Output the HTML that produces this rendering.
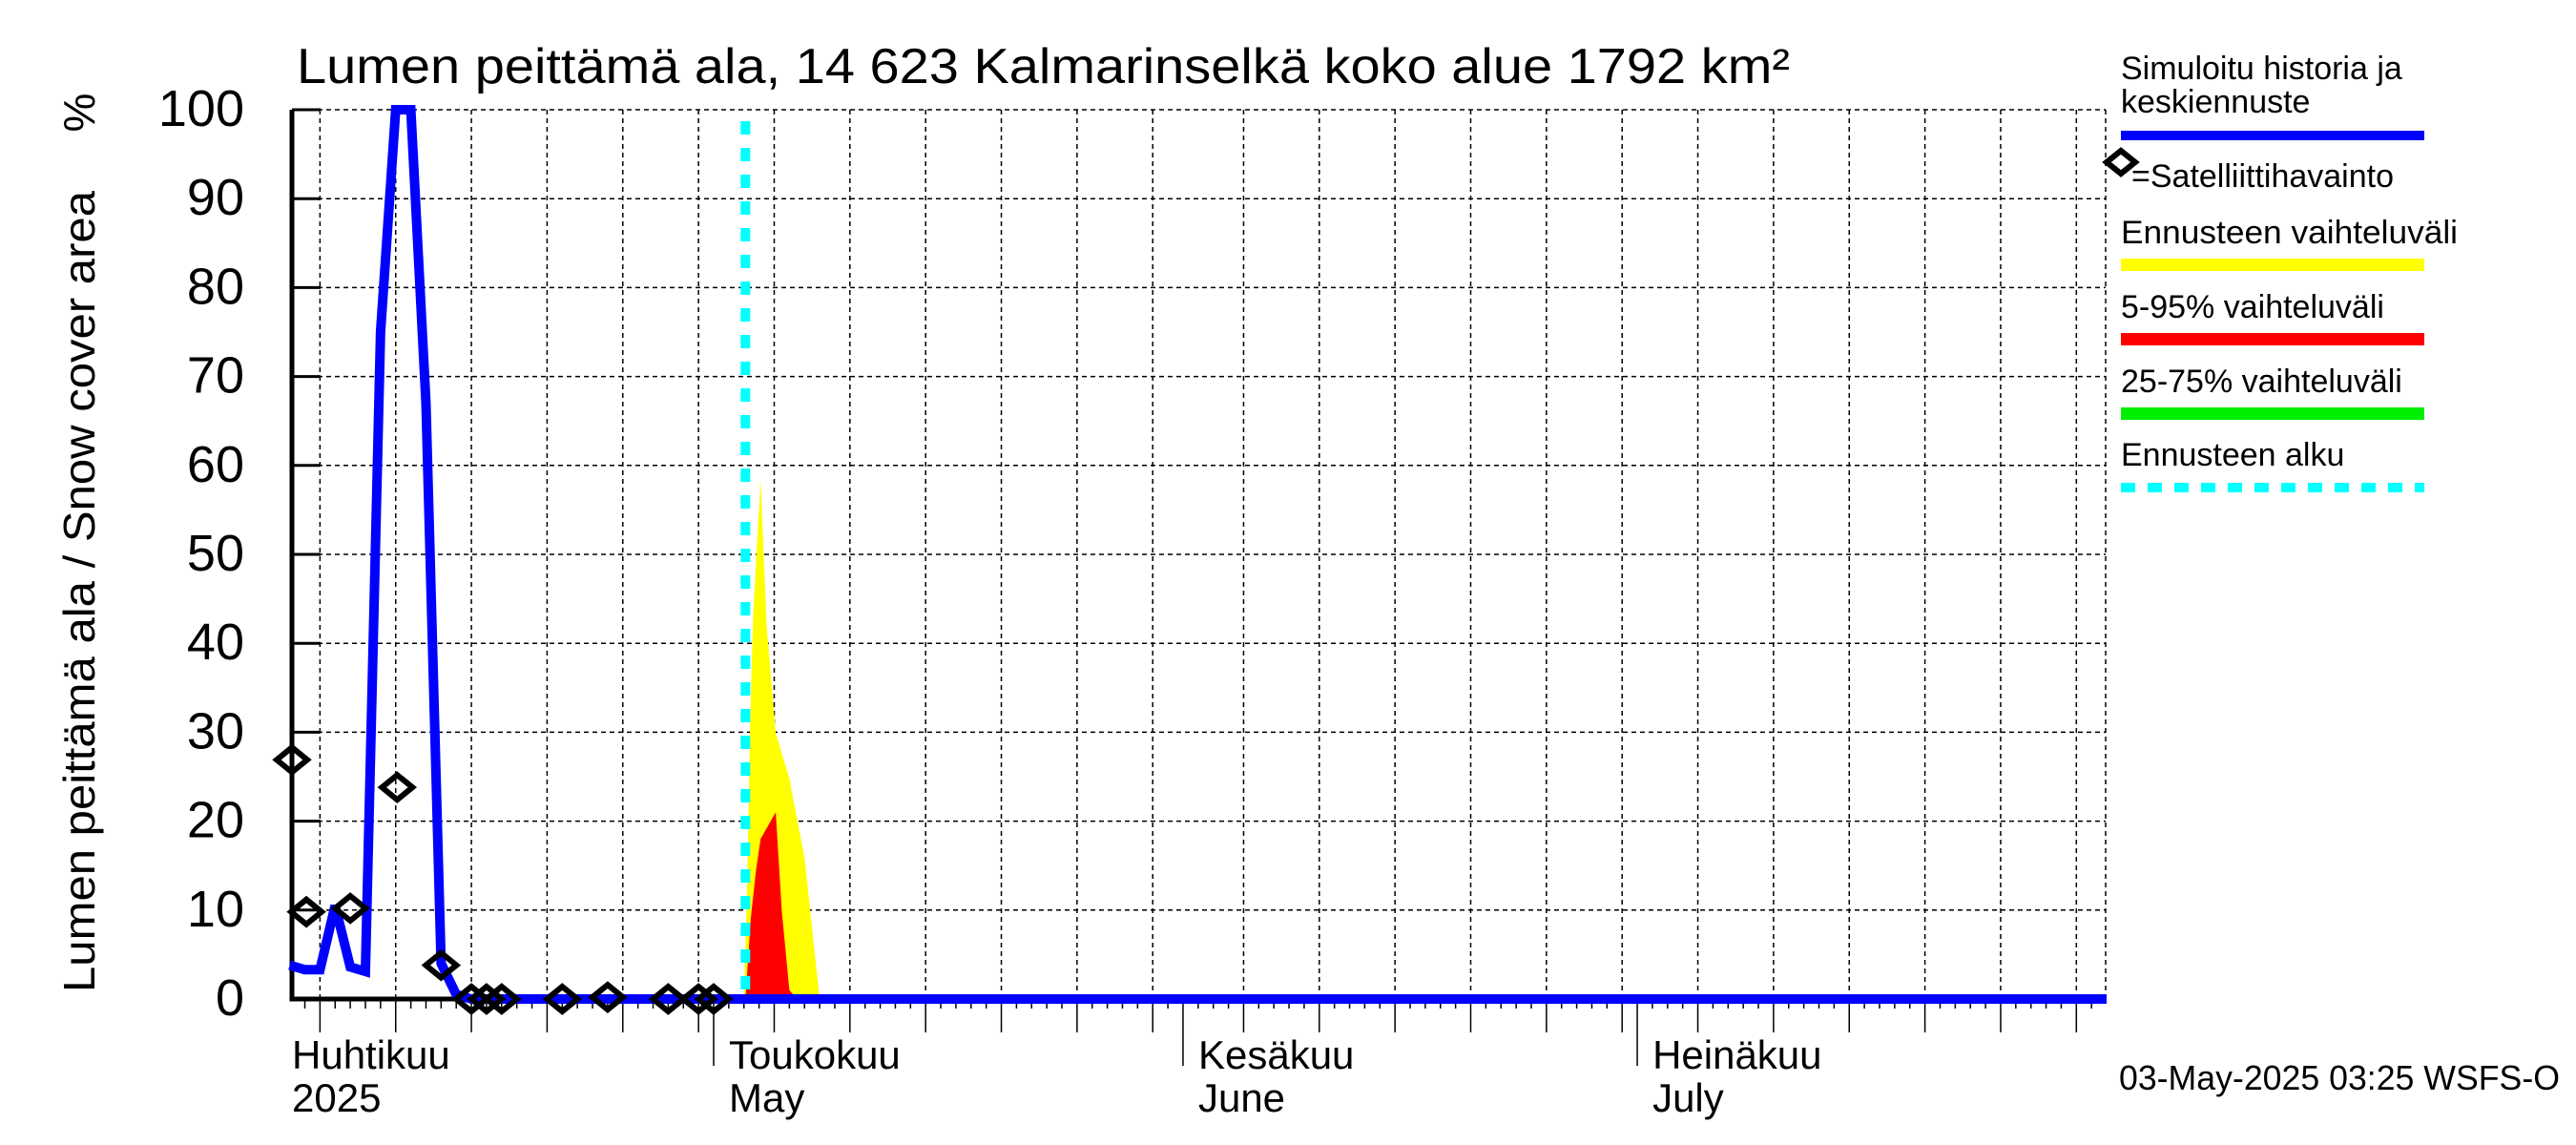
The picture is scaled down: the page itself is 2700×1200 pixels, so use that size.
<!DOCTYPE html>
<html><head><meta charset="utf-8"><title>Lumen peittämä ala</title>
<style>
html,body{margin:0;padding:0;background:#fff;}
svg{display:block;font-family:"Liberation Sans",sans-serif;}
</style></head>
<body>
<svg id="chart" width="2700" height="1200" viewBox="0 0 2700 1200" xmlns="http://www.w3.org/2000/svg">
<rect x="0" y="0" width="2700" height="1200" fill="#fff"/>
<text x="311" y="87" font-size="52" textLength="1565" lengthAdjust="spacingAndGlyphs">Lumen peittämä ala, 14 623 Kalmarinselkä koko alue 1792 km²</text>
<text transform="translate(99,620) rotate(-90)" text-anchor="middle" font-size="46" textLength="840" lengthAdjust="spacingAndGlyphs">Lumen peittämä ala / Snow cover area</text>
<text transform="translate(99,118) rotate(-90)" text-anchor="middle" font-size="46">%</text>
<g id="grid"></g>
<g id="bands"></g>
<g id="axes"></g>
<g id="series"></g>
<g id="legend">
  <text x="2223" y="83" font-size="34">Simuloitu historia ja</text>
  <text x="2223" y="118" font-size="34">keskiennuste</text>
  <rect x="2223" y="137" width="318" height="10" fill="#0000ff"/>
  <path d="M2208 170 L2223 158 L2238 170 L2223 182 Z" fill="none" stroke="#000" stroke-width="6"/>
  <text x="2234" y="196" font-size="34">=Satelliittihavainto</text>
  <text x="2223" y="255" font-size="34" textLength="353" lengthAdjust="spacingAndGlyphs">Ennusteen vaihteluväli</text>
  <rect x="2223" y="271" width="318" height="13" fill="#ffff00"/>
  <text x="2223" y="333" font-size="34">5-95% vaihteluväli</text>
  <rect x="2223" y="349" width="318" height="13" fill="#ff0000"/>
  <text x="2223" y="411" font-size="34">25-75% vaihteluväli</text>
  <rect x="2223" y="427" width="318" height="13" fill="#00ee00"/>
  <text x="2223" y="488" font-size="34">Ennusteen alku</text>
  <line x1="2223" y1="511" x2="2541" y2="511" stroke="#00ffff" stroke-width="10" stroke-dasharray="15 13"/>
</g>
<text x="2221" y="1142" font-size="36" textLength="462" lengthAdjust="spacingAndGlyphs">03-May-2025 03:25 WSFS-O</text>
</svg>
<script>
// Data (day index: 0 = 1 May 2025)
const yTicks = [0,10,20,30,40,50,60,70,80,90,100];
const monthDays = [-30, 0, 31, 61, 92];
const monthLabelsFi = ["Huhtikuu","Toukokuu","Kesäkuu","Heinäkuu"];
const monthLabelsEn = ["2025","May","June","July"];
const simDays = [-28,-27,-26,-25,-24,-23,-22,-21,-20,-19,-18,-17,-16,92];
const simValues = [3.8,3.3,3.3,10.5,3.6,3.1,75,100,100,67,4,0.5,0,0];
const obsDays = [-28,-26.9,-24,-20.9,-18,-16,-15,-14,-10,-7,-3,-1,0];
const obsValues = [26.9,9.8,10.2,23.8,3.8,0,0,0,0,0.2,0,0,0];
const rangeDays = [2.0,2.2,2.4,2.6,3.1,3.5,4.1,5.0,6.0,7.0];
const rangeValues = [0,12,30,43,58.4,42,29.9,24.8,15.9,0];
const p595Days = [2.1,2.45,2.8,3.1,4.1,4.5,5.0,5.5];
const p595Values = [0,9,14.5,18,21,9.9,1,0];
const forecastStartDay = 2.1;

const X0 = 306, X1 = 2207, Y0 = 1047, Y100 = 115;
const dayStart = -27.9, pxPerDay = 15.87;
function xs(d){ return 748 + d*pxPerDay; }
function ys(v){ return Y0 - (Y0-Y100)*v/100; }
const NS = "http://www.w3.org/2000/svg";
function mk(tag, parent){ const e=document.createElementNS(NS,tag); parent.appendChild(e); return e; }
const grid=document.getElementById('grid'), axes=document.getElementById('axes'),
      bands=document.getElementById('bands'), series=document.getElementById('series');

yTicks.forEach(v=>{
  const y=ys(v);
  if(v>0){
    const l=mk('line',grid);
    
    
    l.setAttribute('x1',X0);l.setAttribute('x2',X1);l.setAttribute('y1',y);l.setAttribute('y2',y);
    l.setAttribute('stroke','#000');l.setAttribute('stroke-width','1.5');l.setAttribute('stroke-dasharray','5 4');
    const t2=mk('line',axes);
    
    
    t2.setAttribute('x1',X0);t2.setAttribute('x2',X0+30);t2.setAttribute('y1',y);t2.setAttribute('y2',y);
    t2.setAttribute('stroke','#000');t2.setAttribute('stroke-width','3');
  }
  const t=mk('text',axes);
  
  
  t.setAttribute('x',256);t.setAttribute('y',y+17);t.setAttribute('text-anchor','end');t.setAttribute('font-size','54');
  t.textContent=v;
});
const mStartDates=[[-30,30],[0,31],[31,30],[61,31],[92,31]];
for(let d=Math.ceil(dayStart); d<=92; d++){
  const x=xs(d);
  if(x<X0-1||x>X1+1) continue;
  let dom=1;
  for(const [s] of mStartDates){ if(d>=s) dom=d-s+1; }
  const isMonth = monthDays.includes(d);
  const isGrid = (dom%5===0 && dom<=30);
  const tk=mk('line',axes);
  
  
  tk.setAttribute('x1',x);tk.setAttribute('x2',x);tk.setAttribute('y1',Y0);
  tk.setAttribute('y2', isMonth?1117:(isGrid?1082:1057));
  tk.setAttribute('stroke','#000');tk.setAttribute('stroke-width','1.5');
  if(isGrid){
    const g=mk('line',grid);
    
    
    g.setAttribute('x1',x);g.setAttribute('x2',x);g.setAttribute('y1',Y100);g.setAttribute('y2',Y0);
    g.setAttribute('stroke','#000');g.setAttribute('stroke-width','1.5');g.setAttribute('stroke-dasharray','5 4');
  }
}
{
  const g=mk('line',grid);
  
  
  g.setAttribute('x1',X1);g.setAttribute('x2',X1);g.setAttribute('y1',Y100);g.setAttribute('y2',Y0);
  g.setAttribute('stroke','#000');g.setAttribute('stroke-width','1.5');g.setAttribute('stroke-dasharray','5 4');
}
monthLabelsFi.forEach((m,i)=>{
  const x=Math.max(xs(monthDays[i]),X0)+(i===0?0:16);
  const a=mk('text',axes);
  
  
  a.setAttribute('x',x);a.setAttribute('y',1120);a.setAttribute('font-size','42');a.textContent=m;
  const b=mk('text',axes);
  
  
  b.setAttribute('x',x);b.setAttribute('y',1165);b.setAttribute('font-size','42');b.textContent=monthLabelsEn[i];
});
{
  const l=mk('path',axes);
  
  
  l.setAttribute('d',`M${X0} ${Y100} L${X0} ${Y0} L${X1} ${Y0}`);
  l.setAttribute('fill','none');l.setAttribute('stroke','#000');l.setAttribute('stroke-width','5');
}
function area(days, vals, color, name){
  let d=`M${xs(days[0])} ${ys(0)}`;
  days.forEach((dd,i)=>{ d+=` L${xs(dd)} ${ys(vals[i])}`; });
  d+=` L${xs(days[days.length-1])} ${ys(0)} Z`;
  const p=mk('path',bands);
  
  
  p.setAttribute('d',d);p.setAttribute('fill',color);
}
area(rangeDays,rangeValues,'#ffff00','forecast-range-band');
area(p595Days,p595Values,'#ff0000','p5-95-band');
{
  const l=mk('line',series);
  
  
  const x=xs(forecastStartDay);
  l.setAttribute('x1',x);l.setAttribute('x2',x);l.setAttribute('y1',127);l.setAttribute('y2',Y0);
  l.setAttribute('stroke','#00ffff');l.setAttribute('stroke-width','10');l.setAttribute('stroke-dasharray','14 14');
}
{
  const p=mk('polyline',series);
  
  
  p.setAttribute('points',simDays.map((d,i)=>`${xs(d)},${ys(simValues[i])}`).join(' '));
  p.setAttribute('fill','none');p.setAttribute('stroke','#0000ff');p.setAttribute('stroke-width','10');
  p.setAttribute('stroke-linejoin','miter');
}
obsDays.forEach((d,i)=>{
  const x=Math.max(xs(d),X0), y=ys(obsValues[i]);
  const p=mk('path',series);
  
  
  p.setAttribute('d',`M${x-16} ${y} L${x} ${y-13} L${x+16} ${y} L${x} ${y+13} Z`);
  p.setAttribute('fill','none');p.setAttribute('stroke','#000');p.setAttribute('stroke-width','6');
});
</script>
</body></html>
